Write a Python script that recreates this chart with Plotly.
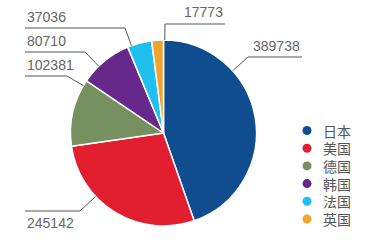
import math
import plotly.graph_objects as go

countries = ["日本", "美国", "德国", "韩国", "法国", "英国"]
values = [389738, 245142, 102381, 80710, 37036, 17773]
colors = ["#104d8e", "#e11f30", "#77905f", "#67288b", "#1fbff0", "#f2a42e"]

W, H = 367, 240
CX, CY, R = 163.5, 133.0, 93.0

# label layout: (elbow x, elbow y, line end x, text side) in pixels
label_layout = {
    "日本": (248, 57, 302, "above"),
    "美国": (80, 211, 25, "below"),
    "德国": (67, 76, 25, "above"),
    "韩国": (85, 52, 25, "above"),
    "法国": (125, 28, 25, "above"),
    "英国": (165, 24, 225, "above"),
}
LEG_X, LEG_Y0, LEG_STEP = 307, 130.5, 17.7

def px(x):
    return x / W

def py(y):
    return 1 - y / H

fig = go.Figure()
fig.add_trace(go.Pie(
    labels=countries, values=values, sort=False, direction="clockwise", rotation=0,
    marker=dict(colors=colors, line=dict(color="white", width=1.5)),
    textinfo="none", hoverinfo="label+value", showlegend=False,
    domain=dict(x=[px(CX - R), px(CX + R)], y=[py(CY + R), py(CY - R)]),
))

# legend: markers on a hidden pixel-scaled axis
leg_y = [LEG_Y0 + i * LEG_STEP for i in range(len(countries))]
fig.add_trace(go.Scatter(
    x=[LEG_X] * len(countries), y=leg_y, mode="markers", showlegend=False,
    marker=dict(symbol="circle", size=9, color=colors), hoverinfo="skip",
))

shapes = []
annotations = []
for c, v in zip(countries, values):
    ex, ey, lx, side = label_layout[c]
    dx, dy = CX - ex, CY - ey
    d = math.hypot(dx, dy)
    t = (d - R) / d
    ax, ay = ex + dx * t, ey + dy * t
    path = f"M {ax},{ay} L {ex},{ey} L {lx},{ey}"
    shapes.append(dict(type="path", xref="x", yref="y", path=path,
                       line=dict(color="#555555", width=1)))
    if lx > ex:
        xa, xanchor = lx, "right"
    else:
        xa, xanchor = lx, "left"
    annotations.append(dict(
        x=xa, y=(ey - 1.5 if side == "above" else ey + 2),
        xref="x", yref="y", text=str(v), showarrow=False,
        xanchor=xanchor, yanchor="bottom" if side == "above" else "top",
        font=dict(family="Liberation Sans, Arial", size=14, color="#666666"),
    ))

for c, yy in zip(countries, leg_y):
    annotations.append(dict(
        x=LEG_X + 14, y=yy, xref="x", yref="y", text=c, showarrow=False,
        xanchor="left", yanchor="middle",
        font=dict(family="Noto Sans CJK SC", size=14, color="#555555"),
    ))

fig.update_layout(
    width=W, height=H, margin=dict(l=0, r=0, t=0, b=0),
    paper_bgcolor="white", plot_bgcolor="white", showlegend=False,
    xaxis=dict(visible=False, range=[0, W], domain=[0, 1], fixedrange=True),
    yaxis=dict(visible=False, range=[H, 0], domain=[0, 1], fixedrange=True),
    shapes=shapes, annotations=annotations,
)

fig.write_html("out.html")
